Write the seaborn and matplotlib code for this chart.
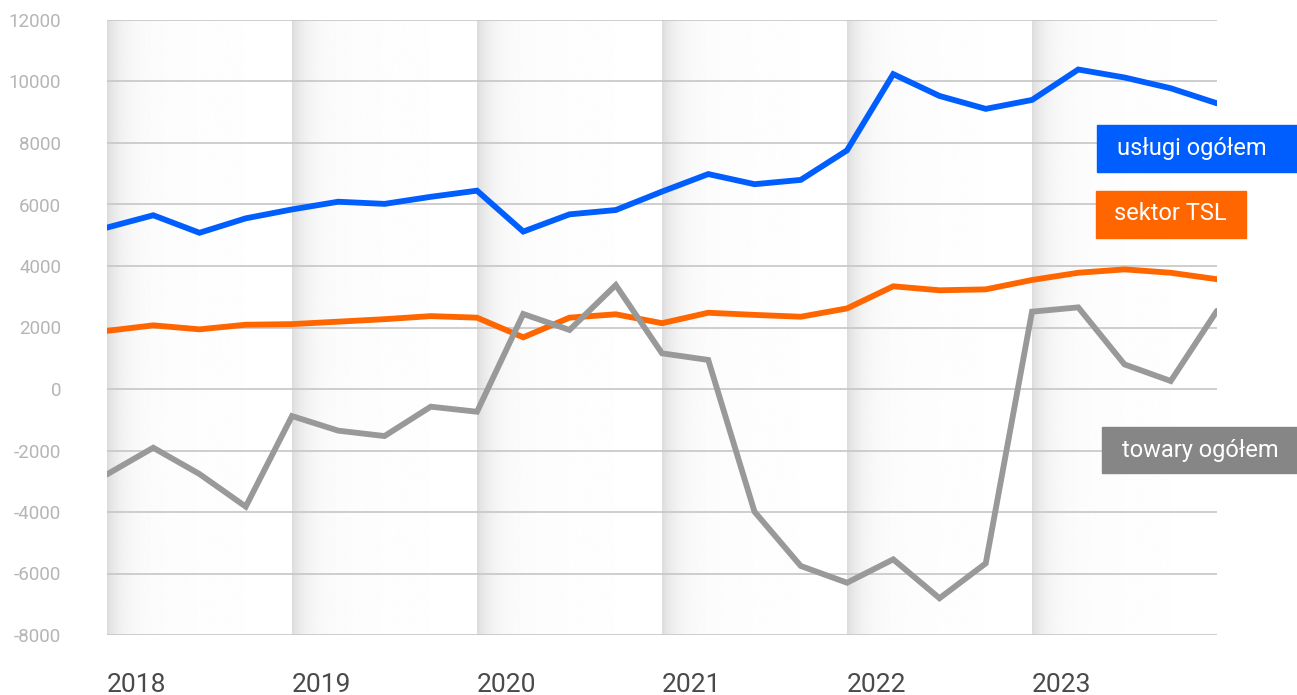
import numpy as np
import pandas as pd
import matplotlib
matplotlib.use("Agg")
import matplotlib.pyplot as plt
import matplotlib.patches as mpatches
from matplotlib.colors import LinearSegmentedColormap
import seaborn as sns

# quarterly data, 2018 Q1 .. 2024 Q1
quarters = np.arange(25)
years = ["2018", "2019", "2020", "2021", "2022", "2023"]

uslugi = [5250, 5650, 5080, 5550, 5840, 6090, 6020, 6250, 6450,
          5120, 5680, 5820, 6420, 6990, 6660, 6800, 7760,
          10240, 9530, 9110, 9400, 10390, 10130, 9780, 9290]
tsl = [1890, 2070, 1940, 2090, 2110, 2190, 2270, 2370, 2320,
       1680, 2320, 2430, 2140, 2480, 2410, 2350, 2620,
       3340, 3210, 3240, 3545, 3780, 3890, 3780, 3570]
towary = [-2775, -1910, -2765, -3825, -880, -1355, -1530, -575, -740,
          2440, 1920, 3380, 1160, 945, -3990, -5755, -6300,
          -5540, -6805, -5670, 2515, 2655, 800, 260, 2545]

series_names = ["usługi ogółem", "sektor TSL", "towary ogółem"]
colors = ["#005EFF", "#FF6600", "#999999"]
box_colors = ["#005EFF", "#FF6600", "#868686"]

df = pd.DataFrame({"q": np.tile(quarters, 3),
                   "val": uslugi + tsl + towary,
                   "series": np.repeat(series_names, len(quarters))})

sns.set_style("white")
plt.rcParams["font.family"] = ["Roboto", "DejaVu Sans"]

W, H = 1297, 695
fig = plt.figure(figsize=(W / 100, H / 100), dpi=100)
ax = fig.add_axes([107 / W, (H - 635) / H, 1110 / W, 615 / H])

ymin, ymax = -8000, 12000

# gradient bands at the start of each year
t = np.linspace(0, 1, 400)
grad = 1 - 0.12 * np.exp(-t / 0.07) - 0.015 * (1 - t)
grad = grad[np.newaxis, :]
cmap = LinearSegmentedColormap.from_list("g", ["#000000", "#ffffff"])
for i in range(len(years)):
    x0 = i * 4
    ax.imshow(grad, extent=[x0, x0 + 4, ymin, ymax], aspect="auto",
              cmap=cmap, vmin=0, vmax=1, zorder=0, interpolation="bilinear")

for y in range(ymin, ymax + 1, 2000):
    ax.axhline(y, color="#c6c6c6", lw=1.2, zorder=1)

sns.lineplot(data=df, x="q", y="val", hue="series", hue_order=series_names,
             palette=colors, linewidth=4.2, ax=ax, legend=False, zorder=3,
             solid_joinstyle="miter", solid_capstyle="round")

ax.set_xlim(0, 24)
ax.set_ylim(ymin, ymax)
ax.set_xlabel("")
ax.set_ylabel("")
ax.set_yticks(range(ymin, ymax + 1, 2000))
ax.set_yticklabels([str(v) for v in range(ymin, ymax + 1, 2000)],
                   fontsize=13.5, color="#b5b5b5")
ax.set_xticks([i * 4 for i in range(len(years))])
ax.set_xticklabels(years, fontsize=19, color="#4a4a4a", ha="left")
ax.tick_params(axis="y", length=0, pad=33)
ax.tick_params(axis="x", length=0, pad=27)
for s in ax.spines.values():
    s.set_visible(False)

# series labels as coloured boxes
boxes = [(1097, 125, 200, 47, 1192, 148),
         (1096, 191, 150, 47, 1170, 214),
         (1102, 427, 195, 46, 1200, 450)]
for (bx, by, bw, bh, tx, ty), name, c in zip(boxes, series_names, box_colors):
    fig.patches.append(mpatches.Rectangle((bx / W, 1 - (by + bh) / H), bw / W, bh / H,
                                          transform=fig.transFigure, color=c, zorder=5))
    fig.text(tx / W, 1 - ty / H, name, color="white", fontsize=17,
             ha="center", va="center", zorder=6)

fig.savefig("out.png", dpi=100)
